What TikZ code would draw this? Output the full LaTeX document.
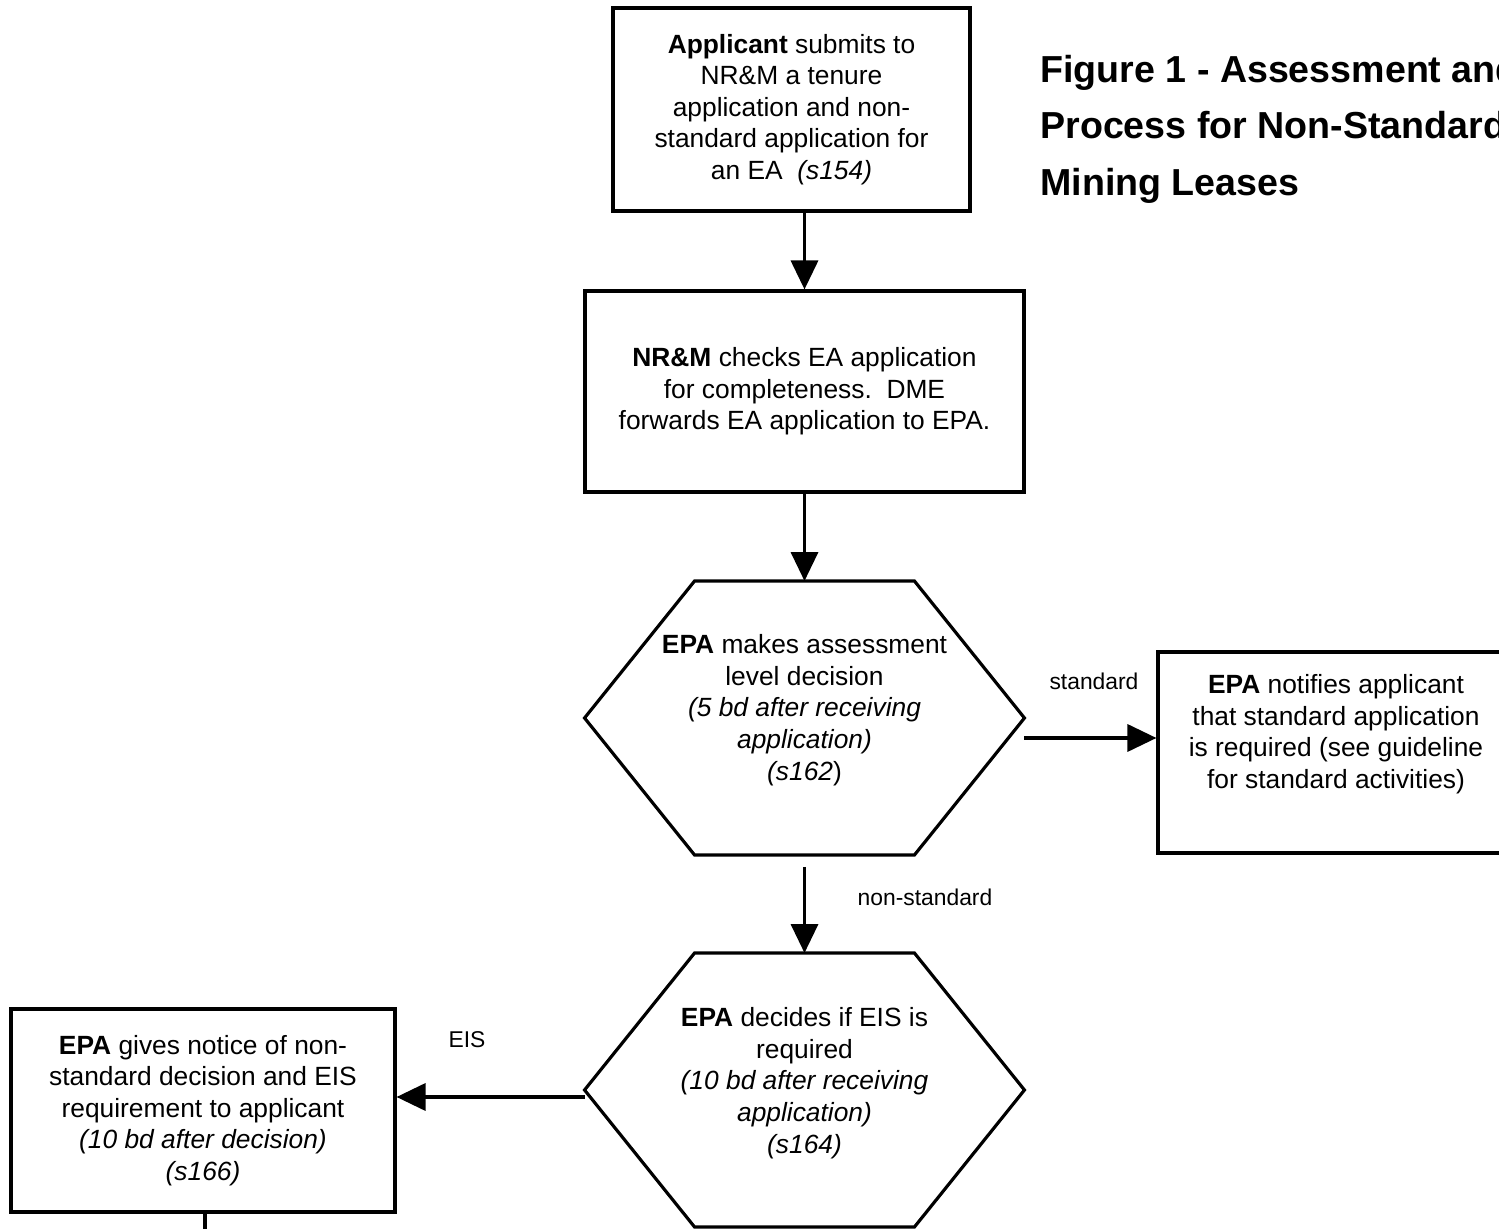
\documentclass[tikz,border=0pt]{standalone}
\usepackage{fontspec}
\setmainfont{Liberation Sans}
\usetikzlibrary{arrows.meta,calc}

\begin{document}
\begin{tikzpicture}[x=0.02cm,y=-0.02cm,
    box/.style={draw, line width=1.8pt, align=center, inner sep=0pt,
        font=\fontsize{15}{18}\selectfont},
    hexframe/.style={inner sep=0pt, outer sep=0pt,
        minimum width=8.8cm, minimum height=5.48cm},
    hexline/.style={line width=1.8pt, line join=miter},
    txt/.style={align=center, inner sep=0pt, font=\fontsize{15}{18}\selectfont},
    lbl/.style={inner sep=0pt, font=\fontsize{13}{15}\selectfont},
    flow/.style={line width=2pt, -{Triangle[length=0.58cm,width=0.54cm]}}]

    % page
    \useasboundingbox (0,0) rectangle (1499,1229);
    \clip (0,0) rectangle (1499,1229);
    \fill[white] (0,0) rectangle (1499,1229);

    % title
    \node[anchor=north west, inner sep=0pt, align=left,
        font=\fontsize{21.4}{32}\selectfont\bfseries] (title) at (1040,55)
        {Figure 1 - Assessment and\\ Process for Non-Standard\\ Mining Leases};

    % boxes
    \node[box, minimum width=7.14cm, minimum height=4.06cm] (appBox) at (791.5,109.5)
        {\textbf{Applicant} submits to\\ NR\&M a tenure\\ application and non-\\
         standard application for\\ an EA \ \textit{(s154)}};
    \node[box, minimum width=8.78cm, minimum height=4.02cm] (chkBox) at (804.5,391.5)
        {\textbf{NR\&M} checks EA application\\ for completeness.\ \ DME\\
         forwards EA application to EPA.};
    \node[box, minimum width=7.12cm, minimum height=4.02cm] (stdBox) at (1336,752.5) {};
    \node[txt] (stdTxt) at (1336,734)
        {\textbf{EPA} notifies applicant\\ that standard application\\
         is required (see guideline\\ for standard activities)};
    \node[box, minimum width=7.68cm, minimum height=4.06cm] (eisBox) at (203,1110.5)
        {\textbf{EPA} gives notice of non-\\ standard decision and EIS\\
         requirement to applicant\\ \textit{(10 bd after decision)}\\ \textit{(s166)}};

    % decisions
    \node[hexframe] (levelHex) at (804.5,718) {};
    \node[hexframe] (eisHex) at (804.5,1090) {};
    \foreach \h in {levelHex,eisHex} {
        \draw[hexline] (\h.west) -- ($(\h.north west)+(110,0)$) -- ($(\h.north east)-(110,0)$)
            -- (\h.east) -- ($(\h.south east)-(110,0)$) -- ($(\h.south west)+(110,0)$) -- cycle;
    }
    \node[txt] (levelTxt) at (804.5,710)
        {\textbf{EPA} makes assessment\\ level decision\\ \textit{(5 bd after receiving}\\
         \textit{application)}\\ \textit{(s162})};
    \node[txt] (eisTxt) at (804.5,1083)
        {\textbf{EPA} decides if EIS is\\ required\\ \textit{(10 bd after receiving}\\
         \textit{application)}\\ \textit{(s164)}};

    % labels
    \node[lbl] (stdLbl) at (1094,681) {standard};
    \node[lbl] (nonLbl) at (925,897) {non-standard};
    \node[lbl] (eisLbl) at (467,1040) {EIS};

    % arrows
    \draw[flow] (chkBox.north |- appBox.south) -- (chkBox.north);
    \draw[flow] (chkBox.south) -- (levelHex.north);
    \draw[flow] ([yshift=-0.4cm]levelHex.east) -- ([yshift=-0.4cm]levelHex.east -| stdBox.west);
    \draw[flow] ([yshift=-0.24cm]levelHex.south) -- (eisHex.north);
    \draw[flow] ([yshift=-0.14cm]eisHex.west) -- ([yshift=-0.14cm]eisHex.west -| eisBox.east);
    \coordinate (exit) at (205,1245);
    \draw[line width=2pt] (eisBox.south -| exit) -- (exit);
\end{tikzpicture}
\end{document}
